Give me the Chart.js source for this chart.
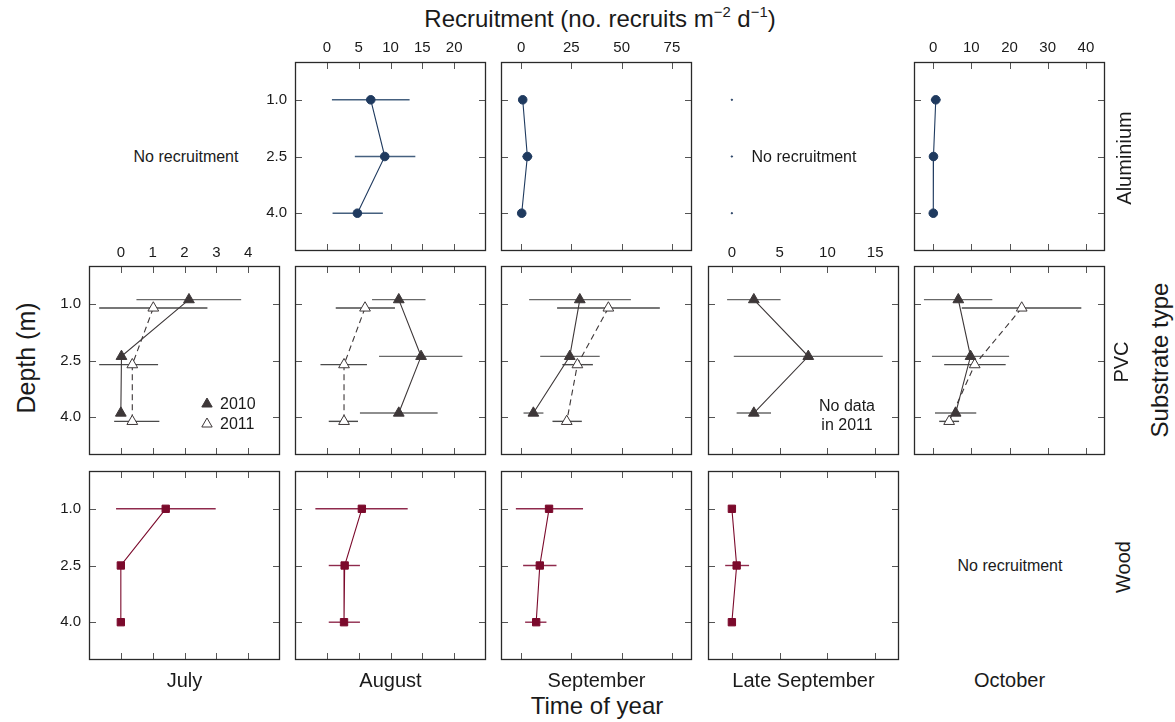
<!DOCTYPE html>
<html>
<head>
<meta charset="utf-8">
<script src="https://cdn.jsdelivr.net/npm/chart.js"></script>
<style>
  body { margin: 0; background: #fff; font-family: "Liberation Sans", Arial, sans-serif; color: #1a1a1a; }
  #wrap { position: relative; width: 1175px; height: 722px; overflow: hidden; }
  canvas { position: absolute; }
  .t { position: absolute; white-space: nowrap; transform: translate(-50%, -50%); text-align: center; }
  .v { transform: translate(-50%, -50%) rotate(-90deg); }
  sup { font-size: 62%; vertical-align: 0.7em; line-height: 0; }
</style>
</head>
<body>
<div id="wrap">
  <div class="t" style="left:600px;top:19px;font-size:24px">Recruitment (no. recruits m<sup>&minus;2</sup> d<sup>&minus;1</sup>)</div>
  <div class="t" style="left:597px;top:706px;font-size:24px">Time of year</div>
  <div class="t v" style="left:26px;top:358px;font-size:25px">Depth (m)</div>
  <div class="t v" style="left:1160px;top:360px;font-size:24px">Substrate type</div>
</div>

<script>
// depth levels (m) and axis ticks
const depths = [1.0, 2.5, 4.0];
const depthTicks = [1.0, 2.5, 4.0];
const months = ['July', 'August', 'September', 'Late September', 'October'];
const substrates = ['Aluminium', 'PVC', 'Wood'];
const monthRanges = [[-1, 5], [-5, 25], [-10, 85], [-2.5, 17.5], [-5, 45]];
const monthTicks = [[0, 1, 2, 3, 4], [0, 5, 10, 15, 20], [0, 25, 50, 75], [0, 5, 10, 15], [0, 10, 20, 30, 40]];

// values per depth as [lower, mean, upper]
const aluAug = [[0.8, 6.9, 13.0], [4.4, 9.1, 13.9], [0.9, 4.8, 8.8]];
const aluSep = [[0.8, 0.8, 0.8], [0.6, 3.1, 5.6], [0.3, 0.3, 0.3]];
const aluLateSep = [[0, 0, 0], [0, 0, 0], [0, 0, 0]];
const aluOct = [[-0.6, 0.7, 2.0], [0.1, 0.1, 0.1], [0.05, 0.05, 0.05]];

const pvcJul2010 = [[0.49, 2.14, 3.78], [0.02, 0.02, 0.02], [0, 0, 0]];
const pvcJul2011 = [[-0.68, 1.02, 2.72], [-0.68, 0.36, 1.17], [-0.21, 0.36, 1.21]];
const pvcAug2010 = [[7.1, 11.3, 15.5], [8.2, 14.8, 21.3], [5.2, 11.3, 17.4]];
const pvcAug2011 = [[1.4, 6.0, 10.7], [-1.0, 2.7, 6.3], [0.3, 2.7, 4.9]];
const pvcSep2010 = [[4.0, 29.2, 54.6], [9.5, 24.2, 39.1], [1.2, 6.1, 11.1]];
const pvcSep2011 = [[17.9, 43.4, 69.0], [20.5, 28.0, 35.7], [15.6, 22.7, 30.2]];
const pvcLateSep2010 = [[-0.5, 2.3, 5.1], [0.2, 8.0, 15.8], [0.5, 2.3, 4.1]];
const pvcOct2010 = [[-2.4, 6.6, 15.5], [-0.3, 9.8, 19.9], [0.5, 5.9, 11.3]];
const pvcOct2011 = [[7.5, 23.2, 38.8], [2.9, 10.9, 19.0], [1.6, 4.2, 6.8]];

const woodJul = [[-0.15, 1.41, 2.98], [0, 0, 0], [0, 0, 0]];
const woodAug = [[-1.8, 5.5, 12.7], [0.3, 2.8, 5.2], [0.3, 2.7, 5.2]];
const woodSep = [[-2.6, 13.9, 30.8], [1.0, 9.3, 17.6], [2.0, 7.5, 12.6]];
const woodLateSep = [[0, 0, 0], [-0.7, 0.5, 1.8], [0, 0, 0]];

const NAVY = '#1f3a5f', CHAR = '#3d3738', CRIMSON = '#7b0a2c';
const FONT = '"Liberation Sans", Arial, sans-serif';
const COL_X = [89, 295, 501, 708, 914], ROW_Y = [62, 266, 471];
const PW = 191, PH = 189, ML = 50, MT = 35, MR = 4, MB = 4, TICK = 7;
const DODGE = 0.11;
const wrap = document.getElementById('wrap');

function addText(txt, x, y, size, vertical) {
  const d = document.createElement('div');
  d.className = vertical ? 't v' : 't';
  d.style.left = x + 'px'; d.style.top = y + 'px'; d.style.fontSize = size + 'px';
  if (txt.includes('<br>')) d.style.lineHeight = '19px';
  d.innerHTML = txt;
  wrap.appendChild(d);
}

// frame with inward ticks on all four sides
const framePlugin = {
  id: 'frame',
  beforeDatasetsDraw(chart, args, o) {
    if (!o.show) return;
    const { ctx, chartArea: a, scales } = chart;
    ctx.save();
    ctx.strokeStyle = '#555'; ctx.lineWidth = 1;
    ctx.beginPath();
    scales.x.ticks.forEach(t => {
      const px = Math.round(scales.x.getPixelForValue(t.value)) + 0.5;
      ctx.moveTo(px, a.top); ctx.lineTo(px, a.top + TICK);
      ctx.moveTo(px, a.bottom); ctx.lineTo(px, a.bottom - TICK);
    });
    scales.y.ticks.forEach(t => {
      const py = Math.round(scales.y.getPixelForValue(t.value)) + 0.5;
      ctx.moveTo(a.left, py); ctx.lineTo(a.left + TICK, py);
      ctx.moveTo(a.right, py); ctx.lineTo(a.right - TICK, py);
    });
    ctx.stroke();
    ctx.strokeStyle = '#2a2a2a'; ctx.lineWidth = 1.3;
    ctx.strokeRect(a.left + 0.5, a.top + 0.5, a.right - a.left - 1, a.bottom - a.top - 1);
    ctx.restore();
  }
};

// year key for the July PVC panel
const yearKeyPlugin = {
  id: 'yearKey',
  afterDatasetsDraw(chart, args, o) {
    if (!o.items) return;
    const { ctx, chartArea: a } = chart;
    ctx.save();
    o.items.forEach((it, i) => {
      const x = a.left + 118, y = a.top + 138 + i * 20, r = 6;
      ctx.beginPath();
      ctx.moveTo(x, y - r);
      ctx.lineTo(x + r * 0.866, y + r * 0.5);
      ctx.lineTo(x - r * 0.866, y + r * 0.5);
      ctx.closePath();
      ctx.fillStyle = it.fill; ctx.fill();
      ctx.strokeStyle = CHAR; ctx.lineWidth = 1; ctx.stroke();
      ctx.fillStyle = '#1a1a1a';
      ctx.font = '16px ' + FONT;
      ctx.textBaseline = 'middle';
      ctx.fillText(it.label, x + 13, y + 1);
    });
    ctx.restore();
  }
};

function makePanel(row, col, series, opts = {}) {
  const cv = document.createElement('canvas');
  const W = PW + ML + MR, H = PH + MT + MB;
  cv.width = W; cv.height = H;
  cv.style.left = (COL_X[col] - ML) + 'px';
  cv.style.top = (ROW_Y[row] - MT) + 'px';
  wrap.appendChild(cv);

  const datasets = [];
  series.forEach(s => {
    datasets.push({
      data: s.values.map((v, i) => ({ x: v[1], y: depths[i] + (s.dodge || 0) })),
      showLine: s.line !== false,
      borderColor: s.color,
      borderWidth: 1.1,
      borderDash: s.dash || [],
      pointStyle: s.point,
      pointRadius: s.radius,
      pointBackgroundColor: s.fill,
      pointBorderColor: s.color,
      pointBorderWidth: 1,
      order: 0
    });
  });
  series.forEach(s => {
    s.values.forEach((v, i) => {
      if (v[2] - v[0] <= 0) return;
      const y = depths[i] + (s.dodge || 0);
      datasets.push({
        data: [{ x: v[0], y }, { x: v[2], y }],
        showLine: true,
        borderColor: s.barColor,
        borderWidth: 1.4,
        pointRadius: 0,
        order: 1
      });
    });
  });

  new Chart(cv, {
    type: 'scatter',
    data: { datasets },
    plugins: [framePlugin, yearKeyPlugin],
    options: {
      responsive: false,
      animation: false,
      events: [],
      layout: { autoPadding: false, padding: { left: 0, top: 0, right: MR, bottom: MB } },
      plugins: {
        legend: { display: false },
        tooltip: { enabled: false },
        frame: { show: opts.frame !== false },
        yearKey: { items: opts.key || null }
      },
      scales: {
        x: {
          type: 'linear', position: 'top',
          min: monthRanges[col][0], max: monthRanges[col][1],
          grid: { display: false, drawTicks: false },
          border: { display: false },
          ticks: { display: !!opts.xLabels, padding: row === 0 ? 5 : 4, color: '#1a1a1a', font: { family: FONT, size: 15 }, callback: v => String(v) },
          afterBuildTicks: ax => { ax.ticks = monthTicks[col].map(v => ({ value: v })); },
          afterFit: ax => { ax.height = MT; ax.paddingLeft = 0; ax.paddingRight = 0; }
        },
        y: {
          type: 'linear', position: 'left', reverse: true, min: 0, max: 5,
          grid: { display: false, drawTicks: false },
          border: { display: false },
          ticks: { display: !!opts.yLabels, padding: 8, color: '#1a1a1a', font: { family: FONT, size: 15 }, callback: v => v.toFixed(1) },
          afterBuildTicks: ax => { ax.ticks = depthTicks.map(v => ({ value: v })); },
          afterFit: ax => { ax.width = ML; ax.paddingTop = 0; ax.paddingBottom = 0; }
        }
      }
    }
  });
}

const alu = v => ({ values: v, color: NAVY, fill: NAVY, barColor: '#45607f', point: 'circle', radius: 4.3 });
const p10 = v => ({ values: v, color: CHAR, fill: CHAR, barColor: '#686868', point: 'triangle', radius: 6.2, dodge: -DODGE });
const p11 = v => ({ values: v, color: CHAR, fill: '#ffffff', barColor: '#4a4a4a', point: 'triangle', radius: 6.2, dodge: DODGE, dash: [6, 4] });
const wood = v => ({ values: v, color: CRIMSON, fill: CRIMSON, barColor: '#8f2a4c', point: 'rect', radius: 5.2 });

// Aluminium row
makePanel(0, 1, [alu(aluAug)], { xLabels: true, yLabels: true });
makePanel(0, 2, [alu(aluSep)], { xLabels: true });
makePanel(0, 3, [{ values: aluLateSep, color: NAVY, fill: NAVY, barColor: NAVY, point: 'circle', radius: 0.7, line: false }], { frame: false });
makePanel(0, 4, [alu(aluOct)], { xLabels: true });

// PVC row
makePanel(1, 0, [p10(pvcJul2010), p11(pvcJul2011)], { xLabels: true, yLabels: true,
  key: [{ label: '2010', fill: CHAR }, { label: '2011', fill: '#ffffff' }] });
makePanel(1, 1, [p10(pvcAug2010), p11(pvcAug2011)]);
makePanel(1, 2, [p10(pvcSep2010), p11(pvcSep2011)]);
makePanel(1, 3, [p10(pvcLateSep2010)], { xLabels: true });
makePanel(1, 4, [p10(pvcOct2010), p11(pvcOct2011)]);

// Wood row
makePanel(2, 0, [wood(woodJul)], { yLabels: true });
makePanel(2, 1, [wood(woodAug)]);
makePanel(2, 2, [wood(woodSep)]);
makePanel(2, 3, [wood(woodLateSep)]);

// panel texts
addText('No recruitment', 186, 157, 16);
addText('No recruitment', 804, 157, 16);
addText('No recruitment', 1010, 566, 16);
addText('No data<br>in 2011', 847, 415, 16);

months.forEach((m, i) => addText(m, COL_X[i] + PW / 2, 680, 20));
const rowLabelX = [1124, 1121, 1123];
substrates.forEach((s, i) => addText(s, rowLabelX[i], ROW_Y[i] + PH / 2 + 1, 20, true));
</script>
</body>
</html>
